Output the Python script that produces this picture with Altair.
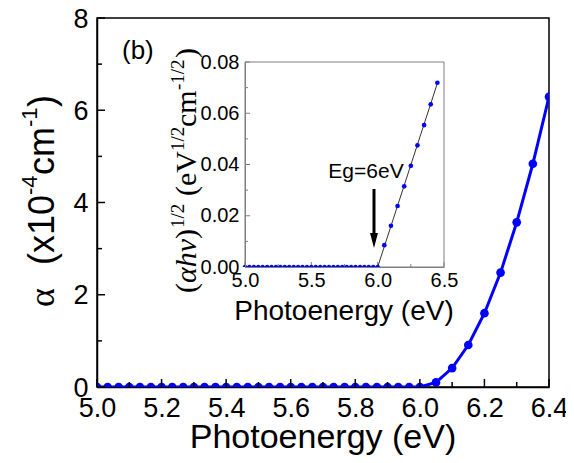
import altair as alt
import pandas as pd

# ---------------- data ----------------
main_energy = [5.0, 5.033, 5.067, 5.1, 5.133, 5.167, 5.2, 5.233, 5.267, 5.3,
               5.333, 5.367, 5.4, 5.433, 5.467, 5.5, 5.533, 5.567, 5.6, 5.633,
               5.667, 5.7, 5.733, 5.767, 5.8, 5.833, 5.867, 5.9, 5.933, 5.967,
               6.0, 6.05, 6.1, 6.15, 6.2, 6.25, 6.3, 6.35, 6.4, 6.45]
main_alpha = [0.0, 0.0, 0.0, 0.0, 0.0, 0.0, 0.0, 0.0, 0.0, 0.0,
              0.0, 0.0, 0.0, 0.0, 0.0, 0.0, 0.0, 0.0, 0.0, 0.0,
              0.0, 0.0, 0.0, 0.0, 0.0, 0.0, 0.0, 0.0, 0.0, 0.0,
              0.0, 0.1, 0.41, 0.91, 1.6, 2.48, 3.57, 4.84, 6.29, 8.0]

inset_energy = [5.0, 5.033, 5.067, 5.1, 5.133, 5.167, 5.2, 5.233, 5.267, 5.3,
                5.333, 5.367, 5.4, 5.433, 5.467, 5.5, 5.533, 5.567, 5.6, 5.633,
                5.667, 5.7, 5.733, 5.767, 5.8, 5.833, 5.867, 5.9, 5.933, 5.967,
                6.0, 6.05, 6.1, 6.15, 6.2, 6.25, 6.3, 6.35, 6.4, 6.45]
inset_value = [0.0, 0.0, 0.0, 0.0, 0.0, 0.0, 0.0, 0.0, 0.0, 0.0,
               0.0, 0.0, 0.0, 0.0, 0.0, 0.0, 0.0, 0.0, 0.0, 0.0,
               0.0, 0.0, 0.0, 0.0, 0.0, 0.0, 0.0, 0.0, 0.0, 0.0,
               0.0, 0.0085, 0.0161, 0.0238, 0.0315, 0.0395, 0.0475, 0.0554, 0.0635, 0.0719]

fit_energy = [6.0, 6.45]
fit_value = [0.0, 0.0717]

main_x_major = [5.0, 5.2, 5.4, 5.6, 5.8, 6.0, 6.2, 6.4]
main_x_minor = [5.1, 5.3, 5.5, 5.7, 5.9, 6.1, 6.3]
main_y_major = [0, 2, 4, 6, 8]
main_y_minor = [1, 3, 5, 7]
inset_x_major = [5.0, 5.5, 6.0, 6.5]
inset_x_minor = [5.25, 5.75, 6.25]
inset_y_major = [0.0, 0.02, 0.04, 0.06, 0.08]
inset_y_minor = [0.01, 0.03, 0.05, 0.07]
inset_x_domain = [5.0, 6.5]
inset_y_domain = [0.0, 0.08]

# ---------------- styling ----------------
W, H = 452, 369
BLUE = "#0000ff"
GRAY = "#7f7f7f"
SANS = "Liberation Sans"
SERIF = "Liberation Serif"
HALF = "M -1 0 A 1 1 0 0 1 1 0 Z"
ARROW = "M -0.53 -1 L 0.53 -1 L 0 1 Z"

mx_scale = alt.Scale(domain=[5.0, 6.4], nice=False, zero=False)
my_scale = alt.Scale(domain=[0, 8], nice=False, zero=False)
mx_axis = alt.Axis(values=main_x_major, format=".1f", ticks=False, tickSize=0,
                   labelFontSize=27, labelFont=SANS, labelColor="black",
                   labelPadding=8, labelFlush=False, labelOverlap=False,
                   domainColor="black", domainWidth=1.5, grid=False, title=None)
my_axis = alt.Axis(values=main_y_major, format="d", ticks=False, tickSize=0,
                   labelFontSize=27, labelFont=SANS, labelColor="black",
                   labelPadding=9, labelOffset=1, labelFlush=False, labelOverlap=False,
                   domainColor="black", domainWidth=1.5, grid=False, title=None)

ix_scale = alt.Scale(domain=inset_x_domain, range=[148, 347], nice=False, zero=False)
iy_scale = alt.Scale(domain=inset_y_domain, range=[249, 44], nice=False, zero=False)
ix_axis = alt.Axis(orient="bottom", offset=-120, values=inset_x_major, format=".1f",
                   ticks=False, tickSize=0, labelFontSize=20, labelFont=SANS,
                   labelColor="black", labelPadding=3, labelFlush=False,
                   labelOverlap=False, domainColor=GRAY, domainWidth=1,
                   grid=False, title=None, zindex=1)
iy_axis = alt.Axis(orient="left", offset=-148, values=inset_y_major, format=".2f",
                   ticks=False, tickSize=0, labelFontSize=20, labelFont=SANS,
                   labelColor="black", labelPadding=6, labelFlush=False,
                   labelOverlap=False, domainColor=GRAY, domainWidth=1,
                   grid=False, title=None, zindex=1)


def MX(f="x"):
    return alt.X(f"{f}:Q", scale=mx_scale, axis=mx_axis)


def MY(f="y"):
    return alt.Y(f"{f}:Q", scale=my_scale, axis=my_axis)


def IX(f="x"):
    return alt.X(f"{f}:Q", scale=ix_scale, axis=ix_axis)


def IY(f="y"):
    return alt.Y(f"{f}:Q", scale=iy_scale, axis=iy_axis)


ONE = pd.DataFrame({"a": [0]})


def label(text, x, y, size, font=SANS, angle=0, style="normal", align="left"):
    return alt.Chart(ONE).mark_text(
        text=text, font=font, fontSize=size, fontStyle=style, angle=angle,
        align=align, baseline="alphabetic", color="black"
    ).encode(x=alt.value(x), y=alt.value(y))


# ---------------- main panel ----------------
main_df = pd.DataFrame({"x": main_energy, "y": main_alpha})
main_line = alt.Chart(main_df).mark_line(color=BLUE, strokeWidth=3, clip=True).encode(x=MX(), y=MY())
main_pts = alt.Chart(main_df).mark_circle(color=BLUE, size=75, opacity=1, clip=True).encode(x=MX(), y=MY())

xt_maj = alt.Chart(pd.DataFrame({"x": main_x_major})).mark_rule(color="black", strokeWidth=1.5).encode(
    x=MX(), y=alt.value(H), y2=alt.value(H - 8))
xt_min = alt.Chart(pd.DataFrame({"x": main_x_minor})).mark_rule(color="black", strokeWidth=1.5).encode(
    x=MX(), y=alt.value(H), y2=alt.value(H - 5))
yt_maj = alt.Chart(pd.DataFrame({"y": main_y_major})).mark_rule(color="black", strokeWidth=1.5).encode(
    y=MY(), x=alt.value(0), x2=alt.value(8))
yt_min = alt.Chart(pd.DataFrame({"y": main_y_minor})).mark_rule(color="black", strokeWidth=1.5).encode(
    y=MY(), x=alt.value(0), x2=alt.value(5))

texts = [
    label("Photoenergy (eV)", 226, 430, 34, align="center"),
    label("(b)", 25, 41, 26),
    # main y title  (rotated, reading upward)
    label("\u03b1", -43, 289, 36, font=SERIF, angle=270),
    label("(x10", -43, 247, 36, angle=270),
    label("-4", -60, 177, 22, angle=270),
    label("cm", -43, 157, 36, angle=270),
    label("-1", -60, 109, 22, angle=270),
    label(")", -43, 89, 36, angle=270),
    # inset x title
    label("Photoenergy (eV)", 247, 302, 28, align="center"),
    # inset y title
    label("(", 99, 275, 30, font=SERIF, angle=270),
    label("\u03b1h\u03bd", 99, 265, 30, font=SERIF, angle=270, style="italic"),
    label(")", 99, 221, 30, font=SERIF, angle=270),
    label("1/2", 87, 210, 19, font=SERIF, angle=270),
    label("(eV", 99, 178, 30, font=SERIF, angle=270),
    label("1/2", 87, 133, 19, font=SERIF, angle=270),
    label("cm", 99, 109, 30, font=SERIF, angle=270),
    label("-1/2", 87, 72, 19, font=SERIF, angle=270),
    label(")", 99, 40, 30, font=SERIF, angle=270),
]

main_group = alt.layer(main_line, main_pts, xt_maj, xt_min, yt_maj, yt_min, *texts)

# ---------------- inset panel ----------------
frame_df = pd.DataFrame({"x": [inset_x_domain[0]], "x2": [inset_x_domain[1]],
                         "y": [inset_y_domain[0]], "y2": [inset_y_domain[1]]})
inset_frame = alt.Chart(frame_df).mark_rect(fill="white", stroke=GRAY, strokeWidth=1).encode(
    x=IX(), x2="x2", y=IY(), y2="y2")

ixt_maj = alt.Chart(pd.DataFrame({"x": inset_x_major})).mark_rule(color=GRAY, strokeWidth=1).encode(
    x=IX(), y=alt.value(249), y2=alt.value(244))
ixt_min = alt.Chart(pd.DataFrame({"x": inset_x_minor})).mark_rule(color=GRAY, strokeWidth=1).encode(
    x=IX(), y=alt.value(249), y2=alt.value(246))
iyt_maj = alt.Chart(pd.DataFrame({"y": inset_y_major})).mark_rule(color=GRAY, strokeWidth=1).encode(
    y=IY(), x=alt.value(148), x2=alt.value(153))
iyt_min = alt.Chart(pd.DataFrame({"y": inset_y_minor})).mark_rule(color=GRAY, strokeWidth=1).encode(
    y=IY(), x=alt.value(148), x2=alt.value(151))

fit_df = pd.DataFrame({"x": fit_energy, "y": fit_value})
fit_line = alt.Chart(fit_df).mark_line(color="#333333", strokeWidth=1).encode(x=IX(), y=IY())

inset_df = pd.DataFrame({"x": inset_energy, "y": inset_value})
inset_pts = alt.Chart(inset_df).mark_point(filled=True, color=BLUE, opacity=1, size=22).encode(
    x=IX(), y=IY(),
    shape=alt.condition("datum.y == 0", alt.value(HALF), alt.value("circle")))

arrow_shaft = alt.Chart(ONE).mark_rule(color="black", strokeWidth=3).encode(
    x=alt.value(277), y=alt.value(171), y2=alt.value(216))
arrow_head = alt.Chart(ONE).mark_point(filled=True, color="black", opacity=1, size=225, shape=ARROW).encode(
    x=alt.value(277), y=alt.value(222.5))
eg_text = label("Eg=6eV", 269, 160, 21, align="center")

inset_group = alt.layer(inset_frame, ixt_maj, ixt_min, iyt_maj, iyt_min, fit_line, inset_pts,
                        arrow_shaft, arrow_head, eg_text)

chart = alt.layer(main_group, inset_group).resolve_scale(
    x="independent", y="independent"
).properties(
    width=W, height=H,
    autosize=alt.AutoSizeParams(type="none"),
    padding={"left": 89, "top": 10, "right": 17, "bottom": 68},
    background="white",
).configure_view(stroke="black", strokeWidth=1.5)

chart.save("out.html", embed_options={"renderer": "svg", "actions": False})
